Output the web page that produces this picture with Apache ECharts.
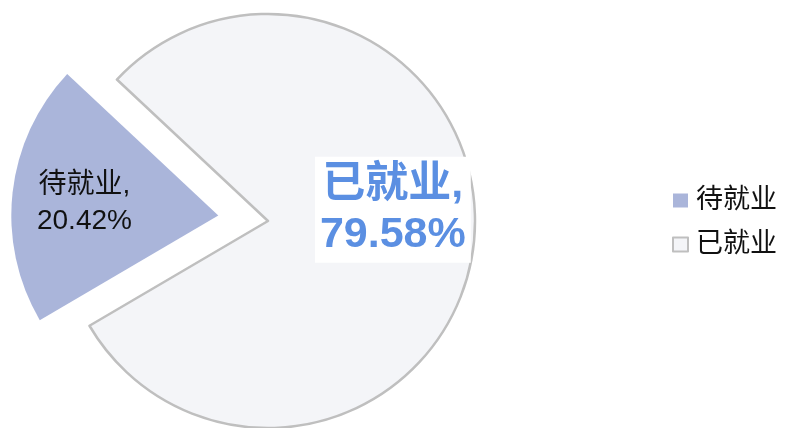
<!DOCTYPE html>
<html>
<head>
<meta charset="utf-8">
<script src="https://cdn.jsdelivr.net/npm/echarts@6/dist/echarts.min.js"></script>
<style>
  html, body { margin: 0; padding: 0; background: #fff; }
  #chart { width: 785px; height: 428px; }
</style>
</head>
<body>
<div id="chart"></div>
<script>
var categories = ['待就业', '已就业'];
var values = [20.42, 79.58];
var colors = ['#aab5da', '#f4f5f8'];

var font = '"Liberation Sans", "Noto Sans CJK SC", sans-serif';

// 选中的扇区 offset 不生效，用 padding 挪位置
var data = [
    {
        name: categories[0],
        value: values[0],
        selected: true,
        itemStyle: { color: colors[0], borderWidth: 0 },
        label: {
            position: 'inside',
            color: '#111',
            fontSize: 28,
            lineHeight: 36,
            padding: [27, 56, 0, 0],
            formatter: '{b},\n{c}%'
        }
    },
    {
        name: categories[1],
        value: values[1],
        itemStyle: { color: colors[1], borderColor: '#bfbfbf', borderWidth: 2.5 },
        label: {
            position: 'inside',
            offset: [19, -23],
            color: '#5b8fe2',
            fontSize: 43,
            fontWeight: 'bold',
            lineHeight: 50,
            backgroundColor: '#ffffff',
            padding: [4, 5, 2, 5],
            formatter: '{b},\n{c}%'
        }
    }
];

var chart = echarts.init(document.getElementById('chart'), null, { renderer: 'canvas' });
chart.setOption({
    animation: false,
    legend: {
        orient: 'vertical',
        left: 667,
        top: 182,
        itemWidth: 15,
        itemHeight: 14,
        itemGap: 17,
        icon: 'rect',
        textStyle: { fontSize: 27, color: '#111', fontFamily: font, padding: [0, 0, 0, 3] },
        data: categories,
        selectedMode: false
    },
    series: [{
        type: 'pie',
        center: [268, 221],
        radius: 207,
        startAngle: 210.4,
        selectedMode: 'single',
        selectedOffset: 50,
        avoidLabelOverlap: false,
        label: { show: true, fontFamily: font },
        labelLine: { show: false },
        emphasis: { disabled: true },
        select: { itemStyle: { color: colors[0] } },
        data: data
    }]
});
</script>
</body>
</html>
